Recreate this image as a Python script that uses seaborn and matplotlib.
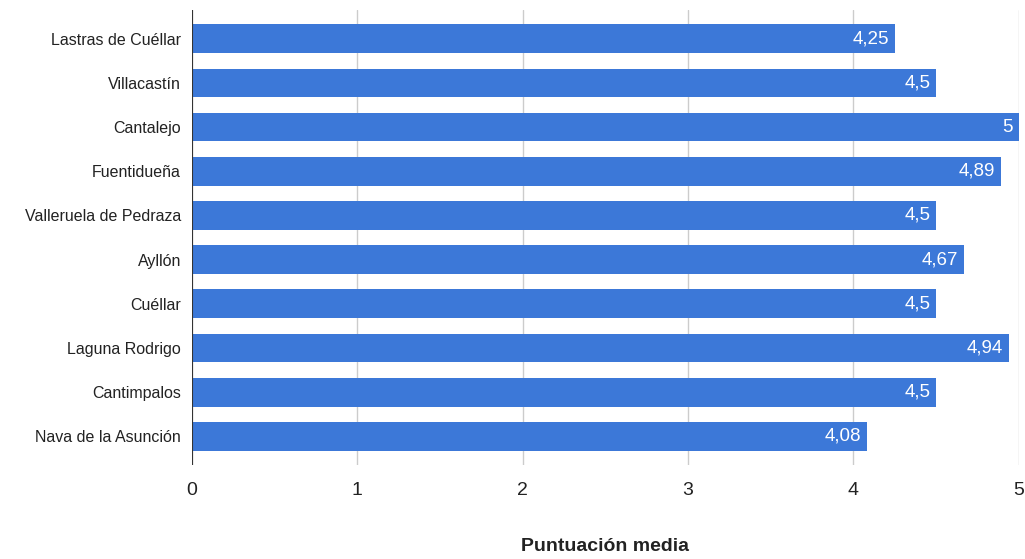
import matplotlib
matplotlib.use("Agg")
import matplotlib.pyplot as plt
import seaborn as sns
import pandas as pd

municipios = ["Lastras de Cuéllar", "Villacastín", "Cantalejo", "Fuentidueña",
              "Valleruela de Pedraza", "Ayllón", "Cuéllar", "Laguna Rodrigo",
              "Cantimpalos", "Nava de la Asunción"]
puntuacion = [4.25, 4.5, 5, 4.89, 4.5, 4.67, 4.5, 4.94, 4.5, 4.08]
etiquetas = ["4,25", "4,5", "5", "4,89", "4,5", "4,67", "4,5", "4,94", "4,5", "4,08"]

df = pd.DataFrame({"municipio": municipios, "puntuacion": puntuacion})

sns.set_theme(style="white")
plt.rcParams["font.family"] = ["Liberation Sans", "DejaVu Sans"]

fig = plt.figure(figsize=(10.25, 5.59), dpi=100)
ax = fig.add_axes([0.1873, 0.168, 0.8067, 0.814])

sns.barplot(data=df, x="puntuacion", y="municipio", color="#3c78d8",
            saturation=1, width=0.65, linewidth=0, ax=ax, zorder=3)

for i, (v, t) in enumerate(zip(puntuacion, etiquetas)):
    ax.text(v - 0.035, i, t, ha="right", va="center", color="white",
            fontsize=13.5, zorder=4)

ax.set_xlim(0, 5)
ax.set_ylim(9.65, -0.65)
ax.set_xticks([0, 1, 2, 3, 4, 5])
ax.set_xticklabels(["0", "1", "2", "3", "4", "5"])
ax.grid(axis="x", color="#cccccc", linewidth=1, zorder=0)
ax.axvline(0, color="#333333", linewidth=1.5, zorder=5)
for s in ["top", "right", "bottom", "left"]:
    ax.spines[s].set_visible(False)

ax.tick_params(axis="y", labelsize=11.5, length=0, pad=8, colors="#222222")
ax.tick_params(axis="x", labelsize=14, length=0, pad=12, colors="#222222")
ax.set_ylabel("")
ax.set_xlabel("Puntuación media", fontsize=14, fontweight="bold",
              labelpad=28, color="#222222")

fig.savefig("out.png", dpi=100)
